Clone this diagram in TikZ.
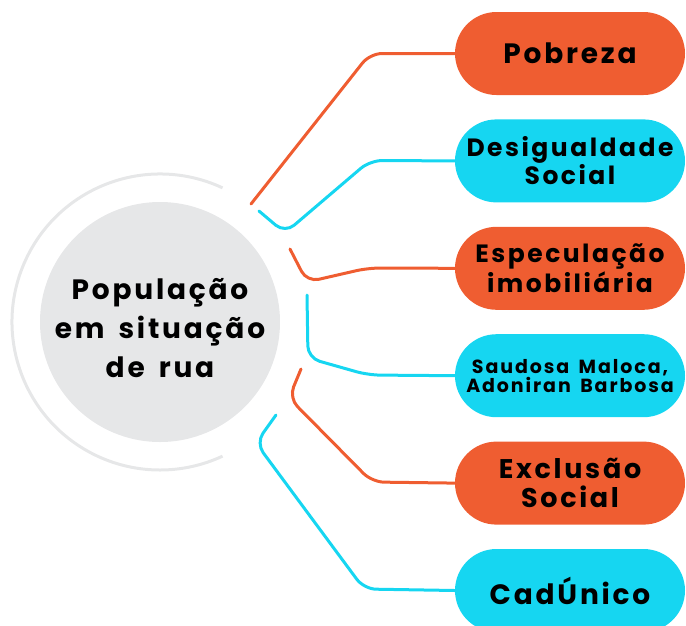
\documentclass[tikz,border=0pt]{standalone}
\usepackage{fontspec}
\newfontfamily\spartan{Poppins}[LetterSpace=10, WordSpace=1.6]
\usetikzlibrary{positioning}
\definecolor{laranja}{HTML}{EF5D31}
\definecolor{ciano}{HTML}{16D6F1}
\definecolor{cinza}{HTML}{E6E7E8}

\begin{document}
\begin{tikzpicture}[x=1pt,y=-1pt,
                    pill/.style={rectangle, rounded corners=41.5pt, minimum width=230pt,
                                 minimum height=83pt, inner sep=0pt, align=center},
                    pilllar/.style={pill, fill=laranja},
                    pillcia/.style={pill, fill=ciano},
                    ligacao/.style={line width=3pt, rounded corners=12pt, line cap=round},
                    anel/.style={cinza, line width=3pt}]
        \useasboundingbox (0,0) rectangle (686,625);
        % centro
        \node[circle, fill=cinza, minimum size=240pt] (pop) at (160,322) {};
        \node[align=center, font=\spartan\bfseries\fontsize{28}{39}\selectfont] (poptxt)
                at ([yshift=-6pt]pop.center) {População\\em situação\\de rua};
        \draw[anel] (pop.center) ++(65:148pt) arc[start angle=65, end angle=295, radius=148pt];
        % causas e temas
        \node[pilllar, font=\spartan\bfseries\fontsize{28}{30}\selectfont] (pob) at (570,53.5) {Pobreza};
        \node[pillcia, below=24pt of pob, font=\spartan\bfseries\fontsize{25}{28}\selectfont] (des) {Desigualdade\\Social};
        \node[pilllar, below=24pt of des, font=\spartan\bfseries\fontsize{25}{30}\selectfont] (esp) {Especulação\\imobiliária};
        \node[pillcia, below=24pt of esp, font=\spartan\bfseries\fontsize{19}{19}\selectfont] (sau) {Saudosa Maloca,\\Adoniran Barbosa};
        \node[pilllar, below=24pt of sau, font=\spartan\bfseries\fontsize{27}{29}\selectfont] (exc) {Exclusão\\Social};
        \node[pillcia, below=24pt of exc, font=\spartan\bfseries\fontsize{28}{30}\selectfont] (cad) {CadÚnico};
        % pontas soltas junto ao circulo
        \coordinate (c1) at (251,204);
        \coordinate (c2) at (259,211);
        \coordinate (c3) at (290,249);
        \coordinate (c4) at (307,295);
        \coordinate (c5) at (301,369);
        \coordinate (c6) at (276,415);
        % ligacoes
        \draw[ligacao, laranja] (c1) -- (370,53.5) -- (pob.west);
        \draw[ligacao, ciano] (c2) -- (285,233) -- (370,160.5) -- (des.west);
        \draw[ligacao, laranja] (c3) -- (307,282) -- (368,268) -- (esp.west);
        \draw[ligacao, ciano] (c4) -- (308,358) -- (368,375) -- (sau.west);
        \draw[ligacao, laranja] (c5) -- (289,398) -- (372,482) -- (exc.west);
        \draw[ligacao, ciano] (c6) -- (256,443) -- (364,589) -- (cad.west);
\end{tikzpicture}
\end{document}
